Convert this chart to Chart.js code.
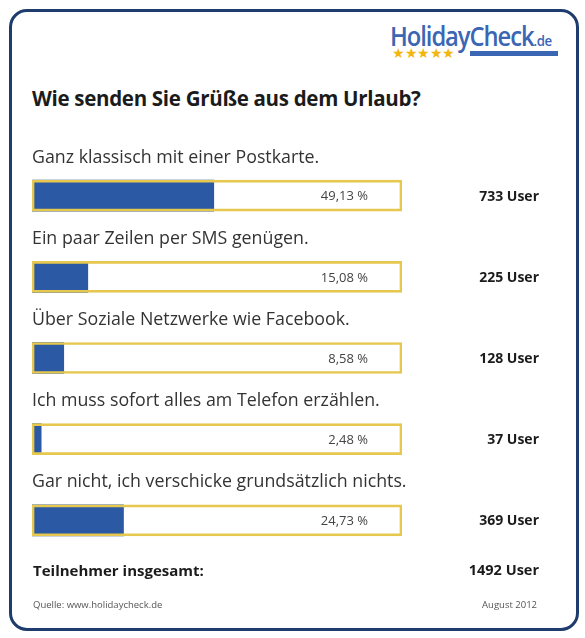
<!DOCTYPE html>
<html>
<head>
<meta charset="utf-8">
<script src="https://cdn.jsdelivr.net/npm/chart.js@4"></script>
<style>
  html, body { margin: 0; padding: 0; background: #fff; }
  #wrap { position: relative; width: 585px; height: 638px; overflow: hidden; font-family: "Open Sans", sans-serif; }
  #panel {
    position: absolute; left: 9px; top: 9px; width: 564px; height: 616px;
    border: 3px solid #1e3c6d; border-radius: 18px;
  }
  #logo { position: absolute; left: 390px; top: 17px; color: #3b66b4; transform: scaleX(0.88); transform-origin: left top; white-space: nowrap; }
  #logo .name { font-size: 27px; font-weight: 600; letter-spacing: -1.2px; }
  #logo .tld { font-size: 15px; font-weight: 600; letter-spacing: -0.5px; }
  #stars { position: absolute; left: 392px; top: 43px; color: #f1b70f; font-size: 14px; letter-spacing: -0.5px; }
  #underline { position: absolute; left: 470px; top: 51px; width: 88px; height: 5px; background: #3b66b4; }
  #title { position: absolute; left: 32px; top: 84px; font-size: 20.5px; font-weight: 700; color: #1b1b1b; letter-spacing: -0.3px; }
  #totalLabel { position: absolute; left: 33px; top: 560px; font-size: 15px; font-weight: 700; color: #1b1b1b; }
  #totalValue { position: absolute; right: 46px; top: 560px; font-size: 14.5px; font-weight: 700; color: #1b1b1b; }
  #source { position: absolute; left: 33px; top: 598px; font-size: 9.5px; color: #555; }
  #date { position: absolute; right: 48px; top: 598px; font-size: 9.5px; color: #555; }
  canvas { position: absolute; left: 0; top: 0; }
</style>
</head>
<body>
<div id="wrap">
  <div id="panel"></div>
  <div id="logo"><span class="name">HolidayCheck</span><span class="tld">.de</span></div>
  <div id="stars">★★★★★</div>
  <div id="underline"></div>
  <div id="title">Wie senden Sie Grüße aus dem Urlaub?</div>
  <canvas id="chart" width="585" height="638"></canvas>
  <div id="totalLabel">Teilnehmer insgesamt:</div>
  <div id="totalValue"></div>
  <div id="source">Quelle: www.holidaycheck.de</div>
  <div id="date">August 2012</div>
</div>
<script>
// survey answers, share in percent, number of users
const answers = [
    "Ganz klassisch mit einer Postkarte.",
    "Ein paar Zeilen per SMS genügen.",
    "Über Soziale Netzwerke wie Facebook.",
    "Ich muss sofort alles am Telefon erzählen.",
    "Gar nicht, ich verschicke grundsätzlich nichts."
];
const shares = [49.13, 15.08, 8.58, 2.48, 24.73];
const users = [733, 225, 128, 37, 369];
const totalUsers = 1492;
const scaleMax = 100;

document.getElementById("totalValue").textContent = totalUsers + " User";

// draws question text above each bar, percentage inside the box, user count right
const labelPlugin = {
    id: "surveyLabels",
    afterDatasetsDraw(chart) {
        const ctx = chart.ctx;
        const meta = chart.getDatasetMeta(1);
        const left = chart.chartArea.left;
        ctx.save();
        meta.data.forEach((bar, i) => {
            const y = bar.y;
            ctx.textBaseline = "middle";

            ctx.fillStyle = "#333";
            ctx.textAlign = "left";
            ctx.font = "17.8px 'Open Sans', sans-serif";
            ctx.fillText(answers[i], left, y - 38);

            ctx.fillStyle = "#444";
            ctx.textAlign = "right";
            ctx.font = "13px 'Open Sans', sans-serif";
            ctx.fillText(shares[i].toFixed(2).replace(".", ",") + " %", 368, y + 1);

            ctx.fillStyle = "#1b1b1b";
            ctx.font = "bold 14px 'Open Sans', sans-serif";
            ctx.fillText(users[i] + " User", 539, y + 1);
        });
        ctx.restore();
    },
};

new Chart(document.getElementById("chart").getContext("2d"), {
    type: "bar",
    data: {
        labels: answers,
        datasets: [
            {
                // frame of each answer (full scale)
                data: answers.map(() => scaleMax),
                backgroundColor: "rgba(0,0,0,0)",
                borderColor: "#e6c84e",
                borderWidth: 2,
                borderSkipped: false,
                barThickness: 31,
                grouped: false,
                order: 1,
            },
            {
                data: shares,
                backgroundColor: "#2b59a4",
                borderWidth: 0,
                barThickness: 31,
                grouped: false,
                order: 2,
            },
        ],
    },
    options: {
        indexAxis: "y",
        responsive: false,
        animation: false,
        layout: { padding: { left: 32, right: 183, top: 155, bottom: 77 } },
        plugins: {
            legend: { display: false },
            tooltip: { enabled: false },
        },
        scales: {
            x: { display: false, min: 0, max: scaleMax },
            y: { display: false },
        },
    },
    plugins: [labelPlugin],
});
</script>
</body>
</html>
